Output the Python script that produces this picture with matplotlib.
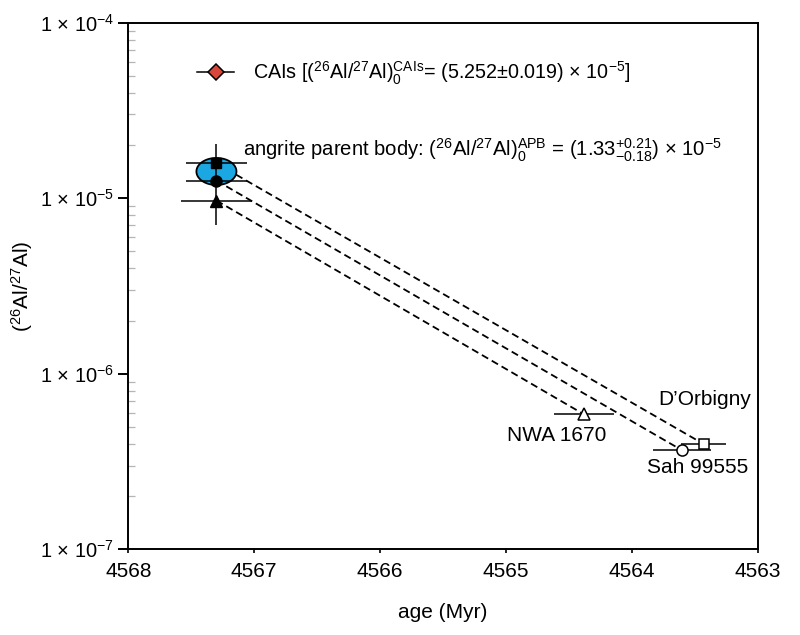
import numpy as np
import matplotlib
matplotlib.use("Agg")
import matplotlib.pyplot as plt
from matplotlib.lines import Line2D

plt.rcParams['font.family'] = ['Liberation Sans', 'DejaVu Sans']
plt.rcParams['mathtext.fontset'] = 'custom'
plt.rcParams['mathtext.rm'] = 'Liberation Sans'
plt.rcParams['mathtext.it'] = 'Liberation Sans:italic'
plt.rcParams['mathtext.bf'] = 'Liberation Sans:bold'

# angrite parent body anchors (square -> D'Orbigny, circle -> Sah 99555, triangle -> NWA 1670)
apb_age = [4567.30, 4567.30, 4567.30]
apb_ratio = [1.58e-5, 1.26e-5, 9.7e-6]
apb_xerr = [0.24, 0.24, 0.28]
apb_markers = ['s', 'o', '^']
apb_yerr_lo = 5.55e-6
apb_yerr_hi = 7.8e-6

# APB ellipse
ell_age = 4567.30
ell_ratio = 1.42e-5
ell_w = 0.159    # half width, Myr
ell_h = 0.077    # half height, dex

# angrites
names = ["D\u2019Orbigny", "Sah 99555", "NWA 1670"]
ang_age = [4563.43, 4563.60, 4564.38]
ang_ratio = [3.98e-7, 3.66e-7, 5.87e-7]
ang_xerr = [0.18, 0.23, 0.24]

xticks = [4568, 4567, 4566, 4565, 4564, 4563]
yticks = [1e-7, 1e-6, 1e-5, 1e-4]
ytick_labels = ['1 × 10$^{-7}$', '1 × 10$^{-6}$', '1 × 10$^{-5}$', '1 × 10$^{-4}$']

fig = plt.figure(figsize=(8, 6.35), dpi=100)
ax = fig.add_axes([0.1604, 0.135, 0.7867, 0.8293])
ax.set_yscale('log')
ax.set_xlim(4568, 4563)
ax.set_ylim(1e-7, 1e-4)

# dashed evolution lines
for i in range(3):
    ax.plot([apb_age[i], ang_age[i]], [apb_ratio[i], ang_ratio[i]], color='black',
            lw=1.3, dashes=(4, 2.3), zorder=2)

# ellipse drawn in log space
t = np.linspace(0, 2 * np.pi, 200)
ex = ell_age + ell_w * np.cos(t)
ey = 10 ** (np.log10(ell_ratio) + ell_h * np.sin(t))
ax.fill(ex, ey, facecolor='#1ba7e2', edgecolor='black', lw=1.3, zorder=3)

# error bars
for i in range(3):
    ax.errorbar(apb_age[i], apb_ratio[i], xerr=apb_xerr[i], fmt='none', ecolor='black',
                elinewidth=1.1, zorder=4)
ax.errorbar(apb_age[1], apb_ratio[1], yerr=[[apb_yerr_lo], [apb_yerr_hi]], fmt='none',
            ecolor='black', elinewidth=1.1, zorder=4)
for i in range(3):
    ax.errorbar(ang_age[i], ang_ratio[i], xerr=ang_xerr[i], fmt='none', ecolor='black',
                elinewidth=1.1, zorder=4)

sizes = [7.5, 8, 8.5]
for i in range(3):
    ax.plot(apb_age[i], apb_ratio[i], marker=apb_markers[i], color='black', ms=sizes[i],
            ls='none', zorder=5)
    ax.plot(ang_age[i], ang_ratio[i], marker=apb_markers[i], mfc='white', mec='black',
            mew=1.1, ms=sizes[i], ls='none', zorder=5)

offsets = [(1, 32), (11, -12), (-20, -15)]
for i in range(3):
    ax.annotate(names[i], (ang_age[i], ang_ratio[i]), xytext=offsets[i],
                textcoords='offset points', ha='center', va='center', fontsize=15)

# legend for CAIs
cai = Line2D([], [], color='black', lw=1.1, marker='D', mfc='#d9473b', mec='black',
             mew=1.1, ms=8)
ax.legend([cai], [r'CAIs [$(^{26}\mathrm{Al}/^{27}\mathrm{Al})_0^{\mathrm{CAIs}}$= (5.252$\pm$0.019) × 10$^{-5}$]'],
          loc='center left', bbox_to_anchor=(0.109, 0.9045), frameon=False,
          borderaxespad=0, borderpad=0, handlelength=1.9, handletextpad=0.95, fontsize=14.2)

ax.text(0.1818, 0.758,
        r'angrite parent body: $(^{26}\mathrm{Al}/^{27}\mathrm{Al})_0^{\mathrm{APB}}$ = $(1.33^{+0.21}_{-0.18})$ × 10$^{-5}$',
        transform=ax.transAxes, ha='left', va='center', fontsize=14.6)

ax.set_xticks(xticks)
ax.set_xticklabels([str(x) for x in xticks])
ax.set_yticks(yticks)
ax.set_yticklabels(ytick_labels)
ax.tick_params(axis='x', which='major', direction='out', length=3, width=1.2, labelsize=15, pad=6)
ax.tick_params(axis='y', which='major', direction='out', length=7, width=1.4, labelsize=14.5, pad=3)
ax.tick_params(axis='y', which='minor', direction='in', length=5, width=0.9, color='#b5b5b5')
ax.tick_params(right=False, top=False)
for s in ax.spines.values():
    s.set_linewidth(1.4)

ax.set_xlabel('age (Myr)', fontsize=15, labelpad=16)
ax.set_ylabel(r'$(^{26}\mathrm{Al}/^{27}\mathrm{Al})$', fontsize=15)
ax.yaxis.set_label_coords(-0.148, 0.5)

fig.savefig('out.png', dpi=100)
